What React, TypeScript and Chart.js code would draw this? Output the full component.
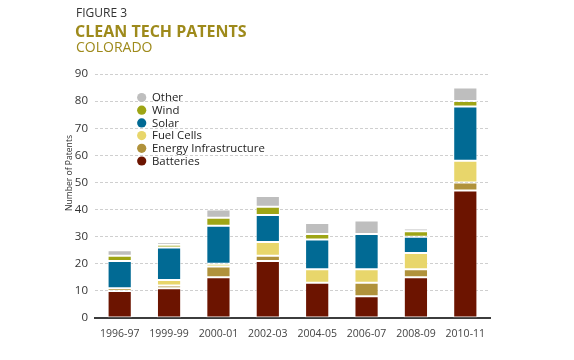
import React, { useEffect, useRef } from "react";
import { Chart, registerables } from "chart.js";

Chart.register(...registerables);

const categories = ["1996-97", "1999-99", "2000-01", "2002-03", "2004-05", "2006-07", "2008-09", "2010-11"];
const batteries = [10, 11, 15, 21, 13, 8, 15, 47];
const energyInfrastructure = [1, 1, 4, 2, 0, 5, 3, 3];
const fuelCells = [0, 2, 1, 5, 5, 5, 6, 8];
const solar = [10, 12, 14, 10, 11, 13, 6, 20];
const wind = [2, 1, 3, 3, 2, 0, 2, 2];
const other = [2, 1, 3, 4, 4, 5, 1, 5];
const yTicks = [0, 10, 20, 30, 40, 50, 60, 70, 80, 90];

const FONT = "'Open Sans', 'DejaVu Sans', sans-serif";
const GOLD = "#9e8a1b";

const titlePlugin = {
  id: "titleAndLegend",
  afterDraw(chart: any) {
    const ctx = chart.ctx;
    ctx.save();
    ctx.textAlign = "left";
    ctx.textBaseline = "alphabetic";
    ctx.fillStyle = "#333";
    ctx.font = `400 12px ${FONT}`;
    ctx.fillText("FIGURE 3", 76, 17);
    ctx.fillStyle = GOLD;
    ctx.font = `700 16px ${FONT}`;
    ctx.fillText("CLEAN TECH PATENTS", 75, 37);
    ctx.font = `400 14px ${FONT}`;
    ctx.fillText("COLORADO", 76, 52);

    // y axis title
    ctx.save();
    ctx.translate(72, 173);
    ctx.rotate(-Math.PI / 2);
    ctx.textAlign = "center";
    ctx.textBaseline = "alphabetic";
    ctx.fillStyle = "#333";
    ctx.font = `400 8.6px ${FONT}`;
    ctx.fillText("Number of Patents", 0, 0);
    ctx.restore();

    // legend
    const ds = chart.data.datasets.slice().reverse();
    ds.forEach((d: any, i: number) => {
      const y = 97.5 + i * 12.7;
      ctx.beginPath();
      ctx.arc(141.7, y, 4.6, 0, Math.PI * 2);
      ctx.fillStyle = d.backgroundColor;
      ctx.fill();
      ctx.fillStyle = "#222";
      ctx.font = `400 11.4px ${FONT}`;
      ctx.textBaseline = "middle";
      ctx.fillText(d.label, 152, y + 0.5);
    });
    ctx.restore();
  },
};

export default function App() {
  const ref = useRef<HTMLCanvasElement>(null);
  useEffect(() => {
    document.body.style.margin = "0";
    const mk = (label: string, data: number[], color: string) => ({
      label,
      data,
      backgroundColor: color,
      borderColor: "rgba(255,255,255,0.55)",
      borderWidth: 1,
      borderSkipped: false,
      categoryPercentage: 1,
      barPercentage: 0.49,
    });
    const chart = new Chart(ref.current!, {
      type: "bar",
      data: {
        labels: categories,
        datasets: [
          mk("Batteries", batteries, "#6c1400"),
          mk("Energy Infrastructure", energyInfrastructure, "#b0923b"),
          mk("Fuel Cells", fuelCells, "#e8d66b"),
          mk("Solar", solar, "#016a94"),
          mk("Wind", wind, "#9ea515"),
          mk("Other", other, "#bebebe"),
        ],
      },
      options: {
        animation: false,
        responsive: false,
        devicePixelRatio: 1,
        layout: { padding: { left: 0, right: 84, top: 74, bottom: 0 } },
        plugins: { legend: { display: false }, tooltip: { enabled: false }, title: { display: false } },
        scales: {
          x: {
            stacked: true,
            grid: { display: false, drawTicks: false },
            border: { display: true, color: "#3c3c3c", width: 2 },
            ticks: { color: "#444", font: { family: FONT, size: 10.5 }, padding: 10, maxRotation: 0, autoSkip: false },
            afterFit: (s: any) => { s.height = 42; },
          },
          y: {
            stacked: true,
            min: 0,
            max: 90,
            afterBuildTicks: (s: any) => { s.ticks = yTicks.map((v) => ({ value: v })); },
            grid: { color: "#cfcfcf", lineWidth: 1, drawTicks: false },
            border: { display: false, dash: [3, 2] },
            ticks: { color: "#333", font: { family: FONT, size: 11.5 }, padding: 7 },
            afterFit: (s: any) => { s.width = 95; },
          },
        },
      },
      plugins: [titlePlugin],
    });
    return () => chart.destroy();
  }, []);
  return (
    <div style={{ width: 574, height: 360, background: "#fff" }}>
      <canvas ref={ref} width={574} height={360} style={{ display: "block" }} />
    </div>
  );
}
